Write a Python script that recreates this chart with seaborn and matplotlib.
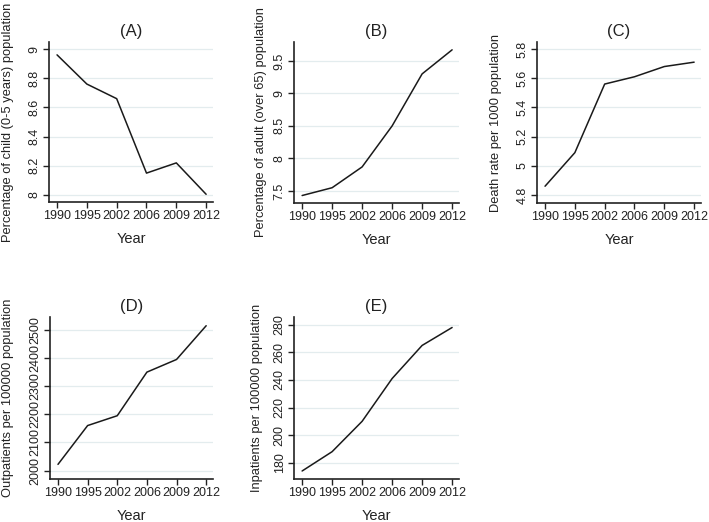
import matplotlib
matplotlib.use("Agg")
import matplotlib.pyplot as plt
import seaborn as sns

# data
years = ["1990", "1995", "2002", "2006", "2009", "2012"]
child_pct = [8.96, 8.76, 8.66, 8.15, 8.22, 8.005]
adult_pct = [7.43, 7.55, 7.87, 8.50, 9.30, 9.67]
death_rate = [4.86, 5.09, 5.56, 5.61, 5.68, 5.71]
outpatients = [2022, 2160, 2195, 2350, 2395, 2515]
inpatients = [174, 188, 210, 241, 265, 278]

sns.set_theme(style="ticks")
plt.rcParams["font.family"] = ["Liberation Sans", "DejaVu Sans"]

fig = plt.figure(figsize=(7.09, 5.22), dpi=100)

panels = [
    ("(A)", child_pct, "Percentage of child (0-5 years) population",
     [0.0691, 0.6130, 0.2313, 0.3065], (7.952, 9.048),
     [8, 8.2, 8.4, 8.6, 8.8, 9], ["8", "8.2", "8.4", "8.6", "8.8", "9"], -0.213),
    ("(B)", adult_pct, "Percentage of adult (over 65) population",
     [0.4147, 0.6111, 0.2327, 0.3084], (7.315, 9.79),
     [7.5, 8, 8.5, 9, 9.5], ["7.5", "8", "8.5", "9", "9.5"], -0.164),
    ("(C)", death_rate, "Death rate per 1000 population",
     [0.7574, 0.6111, 0.2313, 0.3084], (4.745, 5.848),
     [4.8, 5, 5.2, 5.4, 5.6, 5.8], ["4.8", "5", "5.2", "5.4", "5.6", "5.8"], -0.213),
    ("(D)", outpatients, "Outpatients per 100000 population",
     [0.0705, 0.0824, 0.2299, 0.3103], (1970, 2546),
     [2000, 2100, 2200, 2300, 2400, 2500],
     ["2000", "2100", "2200", "2300", "2400", "2500"], -0.221),
    ("(E)", inpatients, "Inpatients per 100000 population",
     [0.4147, 0.0824, 0.2327, 0.3103], (168.2, 285.6),
     [180, 200, 220, 240, 260, 280],
     ["180", "200", "220", "240", "260", "280"], -0.188),
]

tick_font = ["Liberation Sans Narrow", "Liberation Sans", "DejaVu Sans"]

for title, vals, ylab, rect, ylim, yt, ytl, labx in panels:
    ax = fig.add_axes(rect)
    sns.lineplot(x=years, y=vals, ax=ax, color="#1a1a1a", linewidth=1.1)
    ax.set_xlim(-0.27, 5.23)
    ax.set_ylim(*ylim)
    ax.set_yticks(yt)
    ax.set_yticklabels(ytl, rotation=90, va="center", family=tick_font, fontsize=9)
    for lab in ax.get_xticklabels():
        lab.set_family(tick_font)
        lab.set_fontsize(9)
    ax.grid(axis="y", color="#e3ecee", linewidth=0.9)
    ax.set_axisbelow(True)
    sns.despine(ax=ax)
    for s in ("left", "bottom"):
        ax.spines[s].set_color("#222222")
        ax.spines[s].set_linewidth(1.2)
    ax.tick_params(axis="both", length=4, width=1, color="#222222", pad=2,
                   labelcolor="#222222")
    ax.set_title(title, fontsize=12, pad=4, color="#222222")
    ax.set_xlabel("Year", fontsize=10.5, labelpad=7, color="#222222")
    ax.set_ylabel(ylab, fontsize=9.3, color="#222222")
    ax.yaxis.set_label_coords(labx, 0.5)

fig.savefig("out.png", dpi=100)
